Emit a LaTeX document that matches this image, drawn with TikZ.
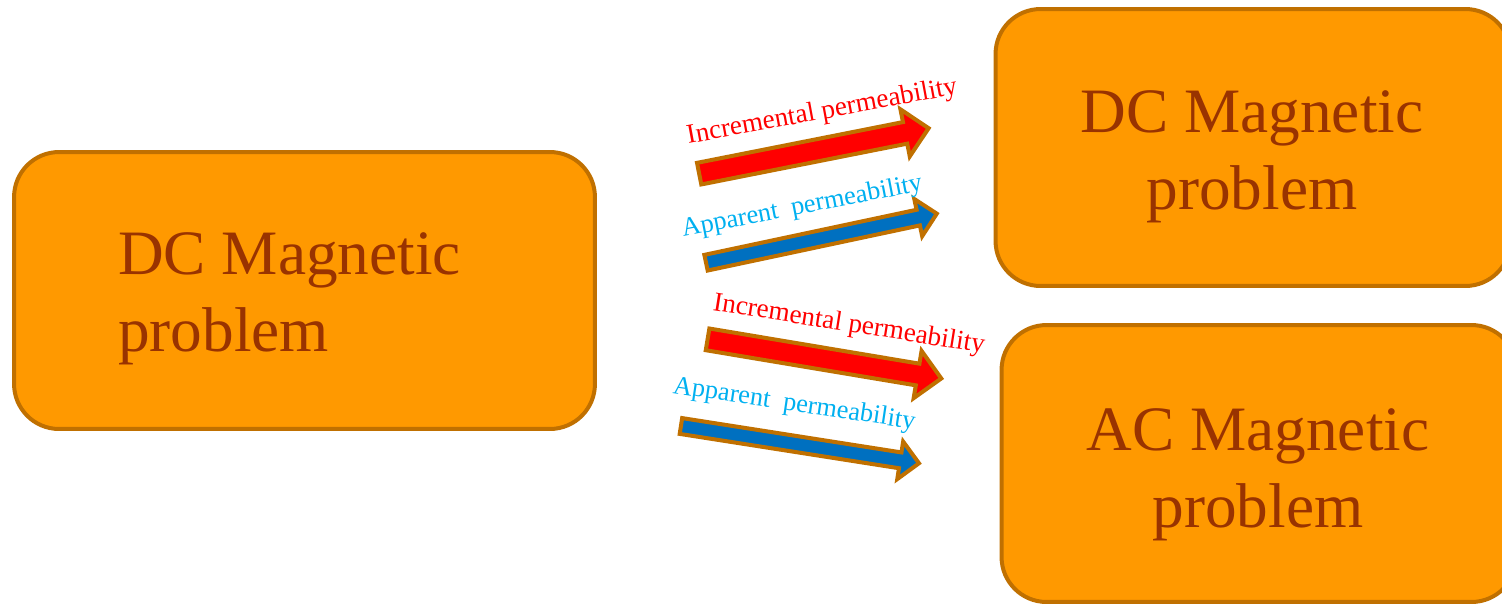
\documentclass[tikz,border=0pt]{standalone}
\usepackage{fontspec}
\setmainfont{Liberation Serif}
\usetikzlibrary{shapes.arrows}
\definecolor{boxfill}{HTML}{FF9900}
\definecolor{boxline}{HTML}{C07000}
\definecolor{boxtext}{HTML}{993300}
\definecolor{incfill}{HTML}{FF0000}
\definecolor{appfill}{HTML}{0070C0}
\definecolor{apptext}{HTML}{00B0F0}
\tikzset{
  probbox/.style={draw=boxline, fill=boxfill, line width=0.08cm, rounded corners=0.9cm,
    minimum height=5.54cm, inner sep=0},
  probtext/.style={text=boxtext, font=\fontsize{36}{43.7}\selectfont, inner sep=0},
  permarrow/.style={single arrow, draw=boxline, line width=0.08cm, inner xsep=0,
    single arrow tip angle=90},
  incarrow/.style={permarrow, fill=incfill, inner ysep=0.18cm, single arrow head extend=0.26cm},
  apparrow/.style={permarrow, fill=appfill, inner ysep=0.12cm, single arrow head extend=0.22cm},
  permlabel/.style={font=\fontsize{15.5}{18}\selectfont, inner sep=0, anchor=base west},
}
\begin{document}
\begin{tikzpicture}[x=0.02cm, y=-0.02cm]
\useasboundingbox (0,0) rectangle (1502,606);

% problem boxes
\node[probbox, minimum width=11.62cm] (dcin) at (304.5,290.5) {};
\node[probbox, minimum width=10.3cm] (dcout) at (1253,147.5) {};
\node[probbox, minimum width=10.3cm] (acout) at (1259,463.5) {};

\node[probtext, align=left] (dcintext) at (289.5,298.5) {DC Magnetic\\problem};
\node[probtext, align=center] (dcouttext) at (1252,157) {DC Magnetic\\problem};
\node[probtext, align=center] (acouttext) at (1258,474.5) {AC Magnetic\\problem};

% arrows to the DC problem
\node[incarrow, minimum height=4.68cm, rotate=11.2] (incdc) at (808.5,152) {};
\node[apparrow, minimum height=4.72cm, rotate=12] (appdc) at (817.5,239) {};
\node[permlabel, incfill, rotate=10.5] (incdclabel) at (688,144) {Incremental permeability};
\node[permlabel, apptext, rotate=11, font=\fontsize{15}{18}\selectfont] (appdclabel) at (683,237) {Apparent\ \ permeability};

% arrows to the AC problem
\node[incarrow, minimum height=4.74cm, rotate=-9.5] (incac) at (819,358) {};
\node[apparrow, minimum height=4.82cm, rotate=-8.9] (appac) at (796,444) {};
\node[permlabel, incfill, rotate=-9] (incaclabel) at (712,310) {Incremental permeability};
\node[permlabel, apptext, rotate=-8.5, font=\fontsize{15}{18}\selectfont] (appaclabel) at (672,393) {Apparent\ \ permeability};
\end{tikzpicture}
\end{document}
